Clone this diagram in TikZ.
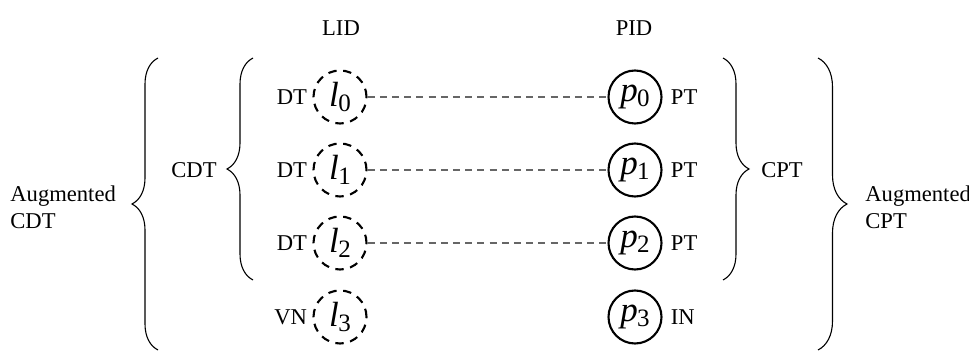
\documentclass[tikz,border=0pt]{standalone}
\usepackage{fontspec}
\setmainfont{Liberation Serif}
\usetikzlibrary{decorations.pathreplacing}
\newcommand\idlbl[2]{{\fontsize{17.5}{17.5}\selectfont\itshape #1}\kern-0.3pt\raisebox{-0.55ex}{\fontsize{12.5}{12.5}\selectfont #2}}
\begin{document}
\begin{tikzpicture}[x=0.5pt,y=-0.5pt,
  lnode/.style={circle,draw,line width=1.05pt,dash pattern=on 4.2pt off 3.3pt,minimum size=26.5pt,inner sep=0pt},
  pnode/.style={circle,draw,line width=1.05pt,minimum size=26.5pt,inner sep=0pt},
  tag/.style={font=\fontsize{11.3}{13.5}\selectfont,inner sep=0pt},
  link/.style={draw=black!60,dash pattern=on 3.5pt off 2.6pt,line width=0.55pt},
  brc/.style={decorate,decoration={brace,amplitude=13pt},line width=0.55pt}]
\useasboundingbox (0,0) rectangle (969,352);
% headers
\node[tag] (lid) at (341,28) {LID};
\node[tag] (pid) at (634,28) {PID};
% nodes
\foreach \i/\y in {0/97,1/170,2/243,3/317}{
  \node[lnode] (l\i) at (340,\y) {\idlbl{l}{\i}};
  \node[pnode] (p\i) at (635,\y) {\idlbl{p}{\i}};
}
\foreach \i in {0,1,2}{
  \node[tag,anchor=east] (dt\i) at ([xshift=-2.5pt]l\i.west) {DT};
  \node[tag,anchor=west] (pt\i) at ([xshift=4pt]p\i.east) {PT};
  \draw[link] (l\i) -- (p\i);
}
\node[tag,anchor=east] (vn) at ([xshift=-2.5pt]l3.west) {VN};
\node[tag,anchor=west] (in) at ([xshift=4pt]p3.east) {IN};
% braces
\coordinate (ilb) at (253,280);
\coordinate (ilt) at (253,58);
\draw[brc] (ilb) -- (ilt);
\coordinate (olb) at (158,350);
\coordinate (olt) at (158,58);
\draw[brc] (olb) -- (olt);
\coordinate (irt) at (723,58);
\coordinate (irb) at (723,280);
\draw[brc] (irt) -- (irb);
\coordinate (ort) at (818,58);
\coordinate (orb) at (818,350);
\draw[brc,decoration={amplitude=14.5pt}] (ort) -- (orb);
% brace labels
\node[tag] (cdt) at (194,170) {CDT};
\node[tag] (cpt) at (782,170) {CPT};
\node[tag,anchor=west,align=left] (acdt) at (10,207) {Augmented\\CDT};
\node[tag,anchor=west,align=left] (acpt) at (865,207) {Augmented\\CPT};
\end{tikzpicture}
\end{document}
